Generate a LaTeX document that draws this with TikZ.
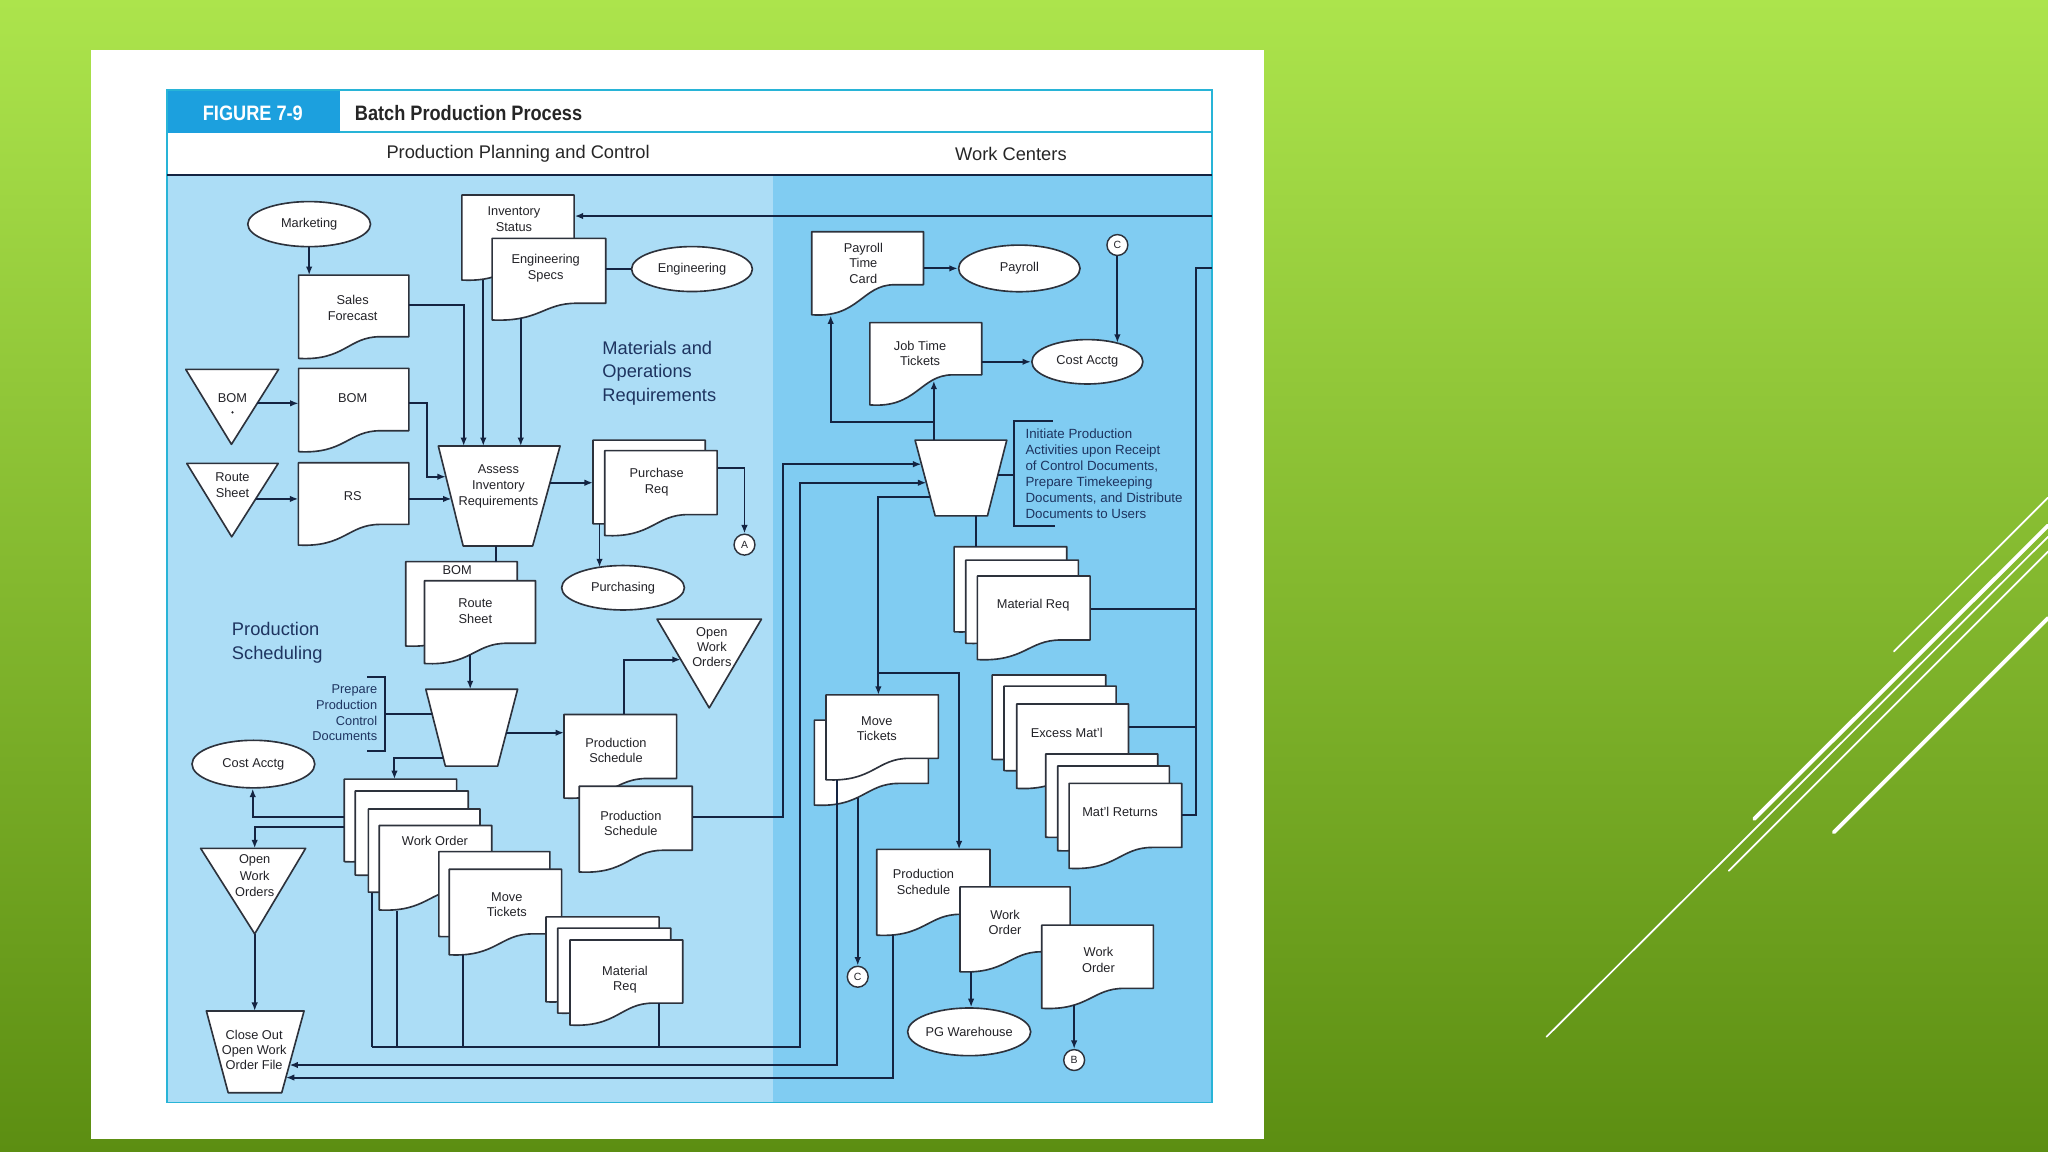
\documentclass[tikz,border=0pt]{standalone}
\usepackage{fontspec}
\setmainfont{Liberation Sans}
\newfontfamily\condbold[FakeStretch=0.87]{Liberation Sans Bold}
\usetikzlibrary{shapes.geometric,arrows.meta,calc}
\definecolor{bgtop}{RGB}{172,228,76}
\definecolor{bgbot}{RGB}{92,142,18}
\definecolor{figblue}{RGB}{28,160,222}
\definecolor{edgecyan}{RGB}{40,180,215}
\definecolor{lightblue}{RGB}{172,221,246}
\definecolor{midblue}{RGB}{128,204,242}
\definecolor{navy}{RGB}{20,36,66}
\definecolor{docedge}{RGB}{45,50,60}
\definecolor{lblgray}{RGB}{35,35,40}
\definecolor{bluetext}{RGB}{30,52,96}
\tikzset{
 docst/.style={fill=white, draw=docedge, line width=1.25pt, line join=round},
 shapest/.style={fill=white, draw=docedge, line width=1.25pt, line join=round},
 lbl/.style={font=\fontsize{9.8}{12}\selectfont, align=center, inner sep=0pt, text=lblgray},
 ell/.style={ellipse, fill=white, draw=docedge, line width=1.25pt, inner sep=0pt, font=\fontsize{9.8}{12}\selectfont, text=lblgray},
 conn/.style={circle, fill=white, draw=docedge, line width=1.1pt, inner sep=0pt, minimum size=16pt, font=\fontsize{8}{9}\selectfont, text=lblgray},
 wire/.style={draw=navy, line width=1.5pt},
 arr/.style={wire, -{Latex[length=6.5pt,width=5pt]}},
 big/.style={font=\fontsize{14}{18}\selectfont, align=left, inner sep=0pt, text=bluetext},
 hdr/.style={font=\fontsize{14}{17}\selectfont, inner sep=0pt, text=black!85},
 note/.style={font=\fontsize{10.2}{12.4}\selectfont, align=left, inner sep=0pt, text=bluetext},
 deco/.style={white, line cap=round},
}
% document symbol: name, x1, ytop, x2, ybottom-right, ybottom-left, text x, text y, text
\newcommand\docu[9]{%
 \pgfmathsetmacro\dw{#4-#2}%
 \pgfmathsetmacro\dh{#5-#3}%
 \pgfmathsetmacro\dd{#6-#5}%
 \filldraw[docst] (#2,#3) -- (#4,#3) -- (#4,#5) -- ({#2+0.74*\dw},#5)
   .. controls ({#2+0.45*\dw},#5) and ({#2+0.42*\dw},{#6+0.12*\dd}) .. (#2,#6) -- cycle;
 \node[inner sep=0pt, minimum width=\dw pt, minimum height=\dh pt, anchor=north west] (#1) at (#2,#3) {};
 \node[lbl] (#1-t) at (#7,#8) {#9};
}
\begin{document}
\begin{tikzpicture}[x=1pt,y=-1pt]
\useasboundingbox (0,0) rectangle (1568,882);
\shade[top color=bgtop, bottom color=bgbot] (0,0) rectangle (1568,882);
% slide decoration
\draw[deco, line width=1.3pt] (1450,498.8) -- (1568,381);
\draw[deco, line width=3pt] (1343,627) -- (1568,402.4);
\draw[deco, line width=1.3pt] (1184,793.8) -- (1568,411);
\draw[deco, line width=1.3pt] (1323.6,666.7) -- (1568,422.3);
\draw[deco, line width=3pt] (1404,637.2) -- (1568,473.2);
% white panel
\fill[white] (70,38) rectangle (968,872);
% figure frame
\fill[white] (128,69) rectangle (927.8,134);
\fill[lightblue] (128,134) rectangle (592,844);
\fill[midblue] (592,134) rectangle (927.8,844);
\fill[figblue] (128,69) rectangle (260.5,101.5);
\draw[edgecyan, line width=1pt] (260.5,101) -- (927.8,101);
\draw[edgecyan, line width=1.2pt] (128,69) -- (927.8,69) -- (927.8,844) -- (128,844) -- cycle;
\draw[navy, line width=1.4pt] (128,134) -- (927.8,134);
\node[font=\condbold\fontsize{16}{18}\selectfont, text=white, inner sep=0pt] (fig) at (193.6,86.8) {FIGURE 7-9};
\node[font=\condbold\fontsize{16}{18}\selectfont, text=black!85, anchor=west, inner sep=0pt] (title) at (271.5,86.8) {Batch Production Process};
\node[hdr] (ppc) at (396.7,118) {Production Planning and Control};
\node[hdr] (wc) at (774,117.5) {Work Centers};
% big labels
\node[big, anchor=west] (mor) at (461,285.5) {Materials and\\Operations\\Requirements};
\node[big, anchor=west] (psch) at (177.4,492.2) {Production\\Scheduling};
% ---------- left documents ----------
\docu{inv}{353.6}{149.3}{439.6}{198}{214.4}{393.5}{167.8}{Inventory\\Status}
\docu{eng}{376.8}{182.5}{463.8}{232.2}{245}{417.8}{205.4}{Engineering\\Specs}
\docu{sf}{228.6}{210.6}{313}{257.8}{274.4}{270}{235.9}{Sales\\Forecast}
\docu{bomd}{228.6}{282}{313}{329.8}{345.8}{270}{305}{BOM}
\docu{rsd}{228.4}{354.3}{313}{401.5}{417.3}{270}{379.8}{RS}
\docu{bomb}{310.6}{430}{396}{479}{494.6}{350}{436.5}{BOM}
\docu{rs2}{325}{444.6}{410}{492.5}{508}{364}{468}{Route\\Sheet}
\docu{pr1}{454}{337}{540}{386}{401}{497}{369}{}
\docu{pr2}{463}{345}{549}{394}{410}{502.8}{369.4}{Purchase\\Req}
\docu{ps1}{431.8}{547}{518}{596}{611}{471.6}{574.5}{Production\\Schedule}
\docu{ps2}{443.5}{602}{530}{651}{667.6}{483}{630.4}{Production\\Schedule}
\docu{wo1}{263.6}{596.5}{349.6}{644}{659.7}{306}{620}{}
\docu{wo2}{272}{605.6}{358.5}{654}{670}{315}{630}{}
\docu{wo3}{282}{619.4}{367.5}{667}{683}{325}{640}{}
\docu{wo4}{290.4}{632}{376.5}{681}{696.7}{333}{644}{Work Order}
\docu{mt1}{336}{652}{421}{701}{717}{378}{680}{}
\docu{mt2}{344}{665.5}{430}{715}{731}{388}{692.6}{Move\\Tickets}
\docu{mr1}{418}{702}{504.6}{751}{767}{461}{730}{}
\docu{mr2}{427}{710.6}{513.5}{760}{775.6}{470}{740}{}
\docu{mr3}{436.4}{719.7}{522.7}{768}{784.8}{478.5}{750}{Material\\Req}
% ---------- right documents ----------
\docu{ptc}{621.5}{177.4}{707}{218}{241}{661}{201.5}{Payroll\\Time\\Card}
\docu{jtt}{666}{247}{751.6}{287}{310}{704.4}{270.5}{Job Time\\Tickets}
\docu{mrr1}{730.5}{418.6}{816.7}{468}{483.7}{773}{450}{}
\docu{mrr2}{739.4}{428.8}{825.6}{477}{492.5}{782}{460}{}
\docu{mrr3}{748.3}{441}{834.6}{490}{505}{791}{463}{Material Req}
\docu{mtb}{623.5}{551.3}{710.8}{599.8}{616.4}{667}{580}{}
\docu{mtf}{632.4}{532}{718.4}{580.6}{597}{671.3}{558}{Move\\Tickets}
\docu{exa}{759.6}{516.8}{846.6}{566}{581.4}{803}{545}{}
\docu{exb}{768.7}{525.3}{854.5}{575}{590}{811}{555}{}
\docu{exc}{778.4}{539}{864}{588}{603.6}{816.7}{561.5}{Excess Mat'l}
\docu{ret1}{800.6}{577.3}{886.4}{626}{641}{843}{605}{}
\docu{ret2}{809.8}{586.5}{895.3}{636}{651.3}{852}{615}{}
\docu{ret3}{818.5}{599.8}{904.8}{648.8}{664.8}{857.5}{621.5}{Mat'l Returns}
\docu{psr}{671.3}{650.3}{758}{700}{716}{707}{675}{Production\\Schedule}
\docu{wor1}{735}{679}{819.3}{728.7}{744}{769.5}{706.3}{Work\\Order}
\docu{wor2}{797.6}{708.3}{883}{756.7}{772}{841}{735}{Work\\Order}
% ---------- ellipses ----------
\node[ell, minimum width=94pt, minimum height=34.5pt] (mkt) at (236.7,171.6) {Marketing};
\node[ell, minimum width=92.5pt, minimum height=34.4pt] (engr) at (529.8,206) {Engineering};
\node[ell, minimum width=94pt, minimum height=34pt] (purch) at (477,450) {Purchasing};
\node[ell, minimum width=94pt, minimum height=36.4pt] (cal) at (194,585) {Cost Acctg};
\node[ell, minimum width=93pt, minimum height=35.7pt] (pay) at (780.4,205.5) {Payroll};
\node[ell, minimum width=85pt, minimum height=34pt] (car) at (832.5,277) {Cost Acctg};
\node[ell, minimum width=90.6pt, minimum height=36.5pt] (pgw) at (742,790) {PG Warehouse};
% ---------- off-page connectors ----------
\node[conn] (ca) at (570,417) {A};
\node[conn] (cc1) at (855.5,187.6) {C};
\node[conn] (cc2) at (656.7,747.8) {C};
\node[conn] (cb) at (822.4,811.6) {B};
% ---------- files (triangles) ----------
\filldraw[shapest] (142.2,282.8) -- (213.3,282.8) -- (177.2,340.2) -- cycle;
\node[lbl] (bomtri) at (178,305) {BOM};
\fill[lblgray] (178,315.7) circle (0.9pt);
\filldraw[shapest] (143,354.8) -- (213,354.8) -- (177.4,411) -- cycle;
\node[lbl, font=\fontsize{9.8}{12.7}\selectfont] (rstri) at (178,371.4) {Route\\Sheet};
\filldraw[shapest] (503,474) -- (583,474) -- (543,542) -- cycle;
\node[lbl, font=\fontsize{9.8}{11.2}\selectfont] (owoa) at (545,495.4) {Open\\Work\\Orders};
\filldraw[shapest] (153.6,649.5) -- (234,649.5) -- (195,715) -- cycle;
\node[lbl, font=\fontsize{9.8}{12.4}\selectfont] (owob) at (195,670.4) {Open\\Work\\Orders};
% ---------- processes (trapezoids) ----------
\filldraw[shapest] (335.6,341.5) -- (428.8,341.5) -- (407.8,418) -- (354.6,418) -- cycle;
\node[lbl] (assess) at (381.6,372.4) {Assess\\Inventory\\Requirements};
\filldraw[shapest] (326,527.7) -- (396.3,527.7) -- (381,586.6) -- (341,586.6) -- cycle;
\node[inner sep=0pt] (prep) at (361,557) {};
\filldraw[shapest] (700.6,337) -- (770.8,337) -- (756,395) -- (716,395) -- cycle;
\node[inner sep=0pt] (init) at (735.7,366) {};
\filldraw[shapest] (158,774) -- (232.8,774) -- (215.7,836.6) -- (174.7,836.6) -- cycle;
\node[lbl, font=\fontsize{9.8}{11.5}\selectfont] (close) at (194.6,804) {Close Out\\Open Work\\Order File};
% ---------- annotations ----------
\draw[wire] (330.8,546.7) -- (295,546.7);
\draw[wire] (281,518) -- (295,518) -- (295,575) -- (281,575);
\node[note, align=right, anchor=east, font=\fontsize{9.8}{12}\selectfont] (prepnote) at (289,546) {Prepare\\Production\\Control\\Documents};
\draw[wire] (764,363.7) -- (776.4,363.7);
\draw[wire] (806,322.4) -- (776.4,322.4) -- (776.4,403) -- (808,403);
\node[note, anchor=west] (initnote) at (785,362.7) {Initiate Production\\Activities upon Receipt\\of Control Documents,\\Prepare Timekeeping\\Documents, and Distribute\\Documents to Users};
% ---------- connectors: planning ----------
\draw[arr] (mkt.south) -- (sf.north -| mkt.south);
\draw[arr] (sf.east |- 0,233.5) -- (355,233.5) -- (355,341.5);
\draw[arr] (370,214.6) -- (370,341.5);
\draw[arr] (398.7,243.7) -- (398.7,341.5);
\draw[wire] (engr.west) -- (eng.east |- engr.west);
\draw[arr] (927.8,165.4) -- (inv.east |- 0,165.4);
\draw[arr] (196.9,308.8) -- (bomd.west |- 0,308.8);
\draw[arr] (196,382) -- (rsd.west |- 0,382);
\draw[arr] (bomd.east |- 0,308.8) -- (326.7,308.8) -- (326.7,365) -- (341.4,365);
\draw[arr] (rsd.east |- 0,382) -- (345.7,382);
\draw[arr] (421.1,369.6) -- (pr1.west |- 0,369.6);
\draw[arr] (pr2.east |- 0,358) -- (570,358) -- (ca.north);
\draw[arr] (459,401) -- (459,434.3);
\draw[wire] (380,418) -- (bomb.north -| 380,0);
\draw[arr] (360,501.5) -- (360,527.7);
% ---------- connectors: scheduling ----------
\draw[arr] (387.6,561) -- (ps1.west |- 0,561);
\draw[arr] (339.3,580) -- (302,580) -- (wo1.north -| 302,0);
\draw[arr] (ps1.north -| 477.8,0) -- (477.8,505) -- (521.2,505);
\draw[arr] (wo1.west |- 0,625.6) -- (193.5,625.6) -- (cal.south -| 193.5,0);
\draw[arr] (wo1.west |- 0,633) -- (195,633) -- (195,649.5);
\draw[arr] (195,715) -- (195,774);
\draw[wire] (285,683.5) -- (285,801.4);
\draw[wire] (304,697.2) -- (304,801.4);
\draw[wire] (354.6,731.2) -- (354.6,801.4);
\draw[wire] (504.6,768) -- (504.6,801.4);
\draw[arr] (285,801.4) -- (612.5,801.4) -- (612.5,369.6) -- (709.3,369.6);
\draw[arr] (ps2.east |- 0,625.4) -- (599.7,625.4) -- (599.7,355.4) -- (705.5,355.4);
% ---------- connectors: work centers ----------
\draw[arr] (712,380.3) -- (672.5,380.3) -- (mtf.north -| 672.5,0);
\draw[arr] (672.5,515.3) -- (734.3,515.3) -- (psr.north -| 734.3,0);
\draw[arr] (715,337) -- (715,291.5);
\draw[arr] (715,323.4) -- (636,323.4) -- (636,241.5);
\draw[arr] (ptc.east |- pay.west) -- (pay.west);
\draw[arr] (jtt.east |- car.west) -- (car.west);
\draw[arr] (cc1.south) -- (855.5,262.5);
\draw[wire] (747,395) -- (mrr1.north -| 747,0);
\draw[wire] (mrr3.east |- 0,466.3) -- (915.8,466.3);
\draw[wire] (exc.east |- 0,556.4) -- (915.8,556.4);
\draw[wire] (ret3.east |- 0,624) -- (915.8,624) -- (915.8,205.5) -- (927.8,205.5);
\draw[arr] (641,597.5) -- (641,815.4) -- (221.6,815.4);
\draw[arr] (656.7,611) -- (cc2.north);
\draw[arr] (684,716.2) -- (684,825) -- (218.9,825);
\draw[arr] (743.5,744.2) -- (pgw.north -| 743.5,0);
\draw[arr] (822.4,769.5) -- (cb.north);
\end{tikzpicture}
\end{document}
